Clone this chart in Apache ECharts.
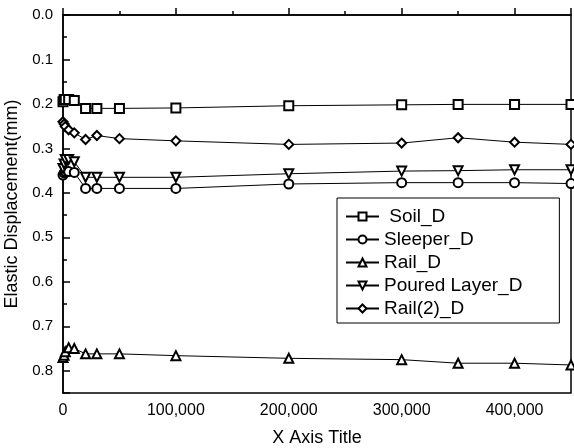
<!DOCTYPE html>
<html>
<head>
<meta charset="utf-8">
<script src="https://cdn.jsdelivr.net/npm/echarts@6/dist/echarts.min.js"></script>
<style>
html, body { margin: 0; padding: 0; background: #fff; }
#chart { width: 574px; height: 448px; }
</style>
</head>
<body>
<div id="chart"></div>
<script>
// x positions shared by all series
var xValues = [0, 1000, 2000, 5000, 10000, 20000, 30000, 50000, 100000, 200000, 300000, 350000, 400000, 450000];

var soilD    = [0.195, 0.19, 0.19, 0.19, 0.192, 0.21, 0.21, 0.21, 0.209, 0.204, 0.202, 0.201, 0.201, 0.201];
var sleeperD = [0.36, 0.355, 0.352, 0.352, 0.354, 0.39, 0.39, 0.39, 0.39, 0.38, 0.377, 0.377, 0.377, 0.379];
var railD    = [0.77, 0.765, 0.757, 0.748, 0.75, 0.762, 0.762, 0.762, 0.766, 0.772, 0.775, 0.783, 0.783, 0.787];
var pouredD  = [0.345, 0.335, 0.325, 0.325, 0.33, 0.365, 0.365, 0.365, 0.365, 0.357, 0.351, 0.35, 0.348, 0.348];
var rail2D   = [0.24, 0.245, 0.251, 0.258, 0.265, 0.28, 0.271, 0.278, 0.283, 0.291, 0.288, 0.276, 0.286, 0.291];

var seriesNames = [' Soil_D', 'Sleeper_D', 'Rail_D', 'Poured Layer_D', 'Rail(2)_D'];

var font = '"Liberation Sans", Arial, sans-serif';

function pairs(ys) {
	var out = [];
	for (var i = 0; i < xValues.length; i++) {
		out.push([xValues[i], ys[i]]);
	}
	return out;
}

function makeSeries(name, ys, symbol, rotate) {
	return {
		name: name,
		type: 'line',
		data: pairs(ys),
		symbol: symbol,
		symbolSize: 9,
		symbolRotate: rotate || 0,
		showAllSymbol: true,
		lineStyle: { color: '#000', width: 1 },
		itemStyle: { color: '#000', borderColor: '#000', borderWidth: 1 },
		emphasis: { disabled: true }
	};
}

var myChart = echarts.init(document.getElementById('chart'));

var option = {
	backgroundColor: '#fff',
	animation: false,
	textStyle: { fontFamily: font, color: '#000' },
	grid: {
		left: 63, top: 15, right: 3, bottom: 55,
		outerBoundsMode: 'none',
		containLabel: false,
		show: true, borderColor: '#000', borderWidth: 1.5
	},
	legend: {
		orient: 'vertical',
		left: 337, top: 198,
		padding: [9, 37, 5, 8],
		backgroundColor: '#fff',
		borderColor: '#000',
		borderWidth: 1,
		itemWidth: 33,
		itemHeight: 10,
		itemGap: 4,
		textStyle: { fontFamily: font, fontSize: 19, color: '#000' },
		data: seriesNames
	},
	xAxis: {
		type: 'value',
		min: 0, max: 450000, interval: 100000,
		name: 'X Axis Title',
		nameLocation: 'middle',
		nameGap: 36,
		nameTextStyle: { fontFamily: font, fontSize: 18, color: '#000' },
		axisLine: { lineStyle: { color: '#000', width: 1.5 } },
		axisTick: { inside: true, length: 7, lineStyle: { color: '#000', width: 1.5 } },
		minorTick: { show: true, splitNumber: 2, length: 4, lineStyle: { color: '#000', width: 1.5 } },
		splitLine: { show: false },
		axisLabel: {
			fontFamily: font, fontSize: 16, color: '#000', margin: 10,
			showMaxLabel: false,
			formatter: function(v) { return v.toLocaleString('en-US'); }
		}
	},
	yAxis: {
		type: 'value',
		inverse: true,
		min: 0, max: 0.85, interval: 0.1,
		name: 'Elastic Displacement(mm)',
		nameLocation: 'middle',
		nameGap: 37,
		nameTextStyle: { fontFamily: font, fontSize: 18, color: '#000' },
		axisLine: { lineStyle: { color: '#000', width: 1.5 } },
		axisTick: { inside: true, length: 7, lineStyle: { color: '#000', width: 1.5 } },
		minorTick: { show: true, splitNumber: 2, length: 4, lineStyle: { color: '#000', width: 1.5 } },
		splitLine: { show: false },
		axisLabel: {
			fontFamily: font, fontSize: 15, color: '#000', margin: 10,
			showMaxLabel: false,
			formatter: function(v) { return v.toFixed(1); }
		}
	},
	series: [
		makeSeries(seriesNames[0], soilD, 'emptyRect'),
		makeSeries(seriesNames[1], sleeperD, 'emptyCircle'),
		makeSeries(seriesNames[2], railD, 'emptyTriangle'),
		makeSeries(seriesNames[3], pouredD, 'emptyTriangle', 180),
		makeSeries(seriesNames[4], rail2D, 'emptyDiamond')
	]
};

myChart.setOption(option, true);
</script>
</body>
</html>
